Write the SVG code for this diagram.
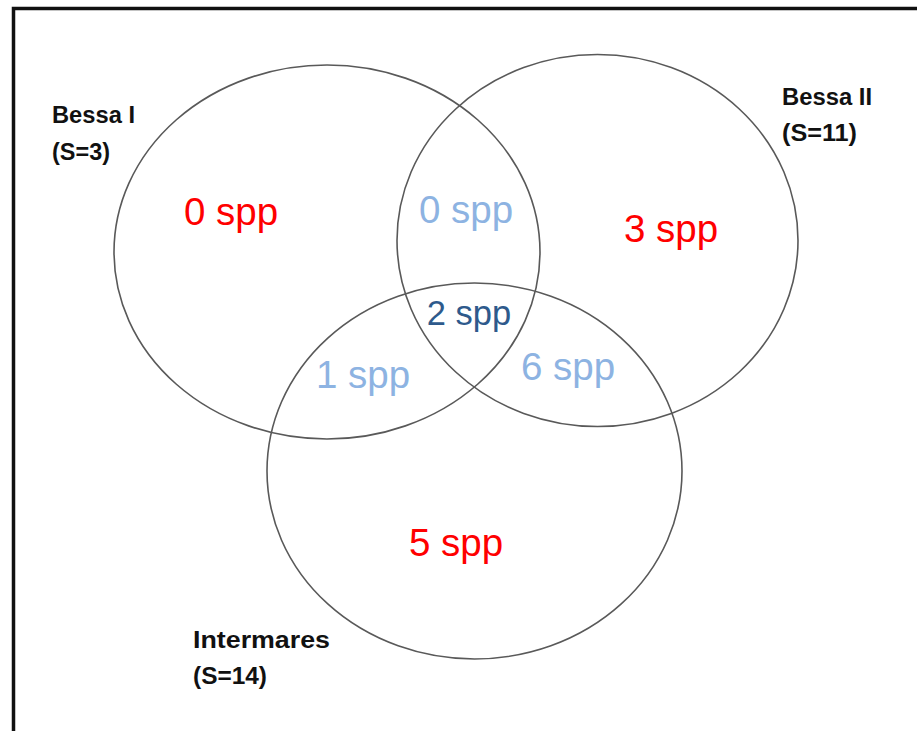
<svg xmlns="http://www.w3.org/2000/svg" width="917" height="731" viewBox="0 0 917 731">
<style>
.c{fill:none;stroke:#595959;stroke-width:1.6}
.lab{font-family:"Liberation Sans",Arial,sans-serif;font-weight:bold;font-size:23px;fill:#111}
.n{font-family:"Liberation Sans",Arial,sans-serif;font-size:38.5px;text-anchor:middle}
.red{fill:#ff0000}
.lb{fill:#8db3e2}
.db{fill:#2e5a8c}
</style>
<rect x="0" y="0" width="917" height="731" fill="#fff"/>
<path d="M13.5 740 V8.5 H930" fill="none" stroke="#111" stroke-width="3.5"/>
<g id="bessa1">
<ellipse class="c" cx="327" cy="252" rx="213" ry="187"/>
<text class="lab" x="52" y="123" textLength="83" lengthAdjust="spacingAndGlyphs">Bessa I</text>
<text class="lab" x="52" y="160" textLength="58" lengthAdjust="spacingAndGlyphs">(S=3)</text>
</g>
<g id="bessa2">
<ellipse class="c" cx="597.5" cy="240.5" rx="200.5" ry="186"/>
<text class="lab" x="782" y="105" textLength="90" lengthAdjust="spacingAndGlyphs">Bessa II</text>
<text class="lab" x="782" y="141" textLength="75" lengthAdjust="spacingAndGlyphs">(S=11)</text>
</g>
<g id="intermares">
<ellipse class="c" cx="474.5" cy="471" rx="207.5" ry="188"/>
<text class="lab" x="193" y="648" textLength="137" lengthAdjust="spacingAndGlyphs">Intermares</text>
<text class="lab" x="193" y="684" textLength="74" lengthAdjust="spacingAndGlyphs">(S=14)</text>
</g>
<g id="counts">
<text class="n red" x="231" y="225">0 spp</text>
<text class="n lb" x="466" y="223">0 spp</text>
<text class="n red" x="671" y="242">3 spp</text>
<text class="n db" x="469" y="325" style="font-size:34.5px">2 spp</text>
<text class="n lb" x="363" y="388">1 spp</text>
<text class="n lb" x="568" y="380">6 spp</text>
<text class="n red" x="456" y="556">5 spp</text>
</g>
</svg>
